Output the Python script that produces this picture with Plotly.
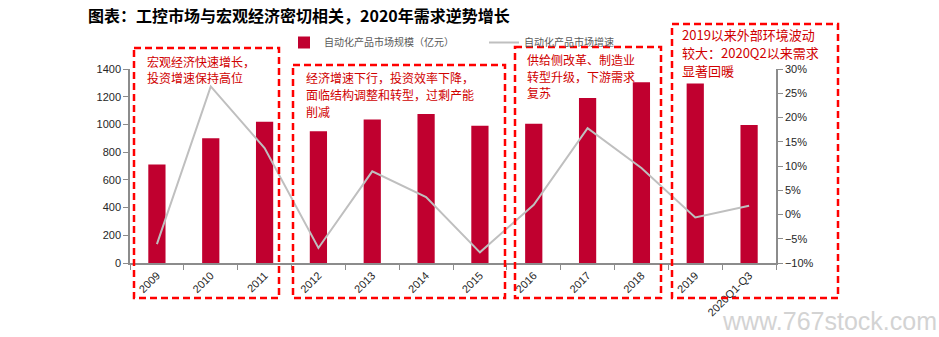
import plotly.graph_objects as go

categories = ["2009", "2010", "2011", "2012", "2013", "2014", "2015",
              "2016", "2017", "2018", "2019", "2020Q1-Q3"]
market_size = [710, 900, 1020, 950, 1035, 1075, 990, 1005, 1190, 1305, 1295, 995]
growth_pct = [-6.1, 26.4, 13.7, -6.9, 8.9, 3.6, -7.8, 2.0, 17.8, 9.6, -0.6, 1.8]

bar_name = "自动化产品市场规模（亿元）"
line_name = "自动化产品市场增速"
title_text = "图表：工控市场与宏观经济密切相关，2020年需求逆势增长"
notes = [
    ["宏观经济快速增长，", "投资增速保持高位"],
    ["经济增速下行，投资效率下降，", "面临结构调整和转型，过剩产能", "削减"],
    ["供给侧改革、制造业", "转型升级，下游需求", "复苏"],
    ["2019以来外部环境波动", "较大：2020Q2以来需求", "显著回暖"],
]

W, H = 939, 337
L, R, T, B = 130, 776, 69, 263


def px(x):
    return (x - L) / (R - L)


def py(y):
    return (B - y) / (B - T)


BAR_COLOR = "#C0002F"
LINE_COLOR = "#BFBFBF"
RED = "#FF0000"
TXT_RED = "#D00000"
AXIS = "#8C8C8C"
FONT = "Liberation Sans, Noto Sans CJK SC"

fig = go.Figure()
fig.add_trace(go.Bar(x=categories, y=market_size, name=bar_name,
                     marker=dict(color=BAR_COLOR, line=dict(width=0)),
                     width=0.32, yaxis="y"))
fig.add_trace(go.Scatter(x=categories, y=growth_pct, name=line_name,
                         mode="lines", line=dict(color=LINE_COLOR, width=2),
                         yaxis="y2"))

# dashed boxes (pixel positions)
boxes = [(134, 48, 279, 298), (293, 65, 505, 298), (515, 47, 661, 298), (672, 24, 838, 298)]
for x0, y0, x1, y1 in boxes:
    fig.add_shape(type="rect", xref="paper", yref="paper",
                  x0=px(x0), x1=px(x1), y0=py(y0), y1=py(y1),
                  line=dict(color=RED, width=2.5, dash="7px,4px"), layer="above")

# (left x, first-line centre y, line step, font size)
note_pos = [(145, 61.5, 16.5, 12), (304, 78, 16.5, 12), (525, 59.5, 16.5, 12), (680, 35, 17.5, 13)]
for (x, y, step, fs), lines in zip(note_pos, notes):
    for i, t in enumerate(lines):
        fig.add_annotation(text=t, xref="paper", yref="paper", x=px(x), y=py(y + i * step),
                           xanchor="left", yanchor="middle", align="left", showarrow=False,
                           font=dict(family="Noto Sans CJK SC", size=fs, color=TXT_RED))

fig.add_annotation(text="<b>" + title_text + "</b>", xref="paper", yref="paper",
                   x=px(86), y=py(1), xanchor="left", yanchor="top", showarrow=False,
                   font=dict(family="Noto Sans CJK SC", size=16, color="#000000"))

fig.add_annotation(text="www.767stock.com", xref="paper", yref="paper",
                   x=px(939), y=py(337), xanchor="right", yanchor="bottom", showarrow=False,
                   font=dict(family="Liberation Sans", size=25, color="#D3D3D3"))

fig.update_layout(
    width=W, height=H,
    margin=dict(l=L, r=W - R, t=T, b=H - B, pad=0),
    plot_bgcolor="white", paper_bgcolor="white",
    font=dict(family=FONT, size=11, color="#404040"),
    showlegend=True,
    legend=dict(orientation="h", xref="container", yref="container",
                x=284 / W, y=1 - 28 / H, xanchor="left", yanchor="top",
                font=dict(family="Noto Sans CJK SC", size=10, color="#595959"),
                entrywidth=155, entrywidthmode="pixels", bgcolor="rgba(0,0,0,0)",
                itemwidth=30),
    bargap=0.68,
    xaxis=dict(type="category", tickangle=-45, showline=True, linecolor=AXIS,
               linewidth=1.5, ticks="outside", tickson="boundaries", ticklen=5,
               tickcolor=AXIS, showgrid=False, automargin=False,
               tickfont=dict(family="Liberation Sans", size=11, color="#262626")),
    yaxis=dict(range=[0, 1400], dtick=200, showline=True, linecolor=AXIS,
               linewidth=1.5, ticks="outside", ticklen=5, tickcolor=AXIS,
               showgrid=False, zeroline=False, automargin=False,
               tickfont=dict(family="Liberation Sans", size=11, color="#262626")),
    yaxis2=dict(range=[-10, 30], dtick=5, ticksuffix="%", overlaying="y", side="right",
                showline=True, linecolor=AXIS, linewidth=1.5, ticks="outside",
                ticklen=5, tickcolor=AXIS, showgrid=False, zeroline=False,
                automargin=False,
                tickfont=dict(family="Liberation Sans", size=11, color="#262626")),
)

fig.write_html("out.html")
